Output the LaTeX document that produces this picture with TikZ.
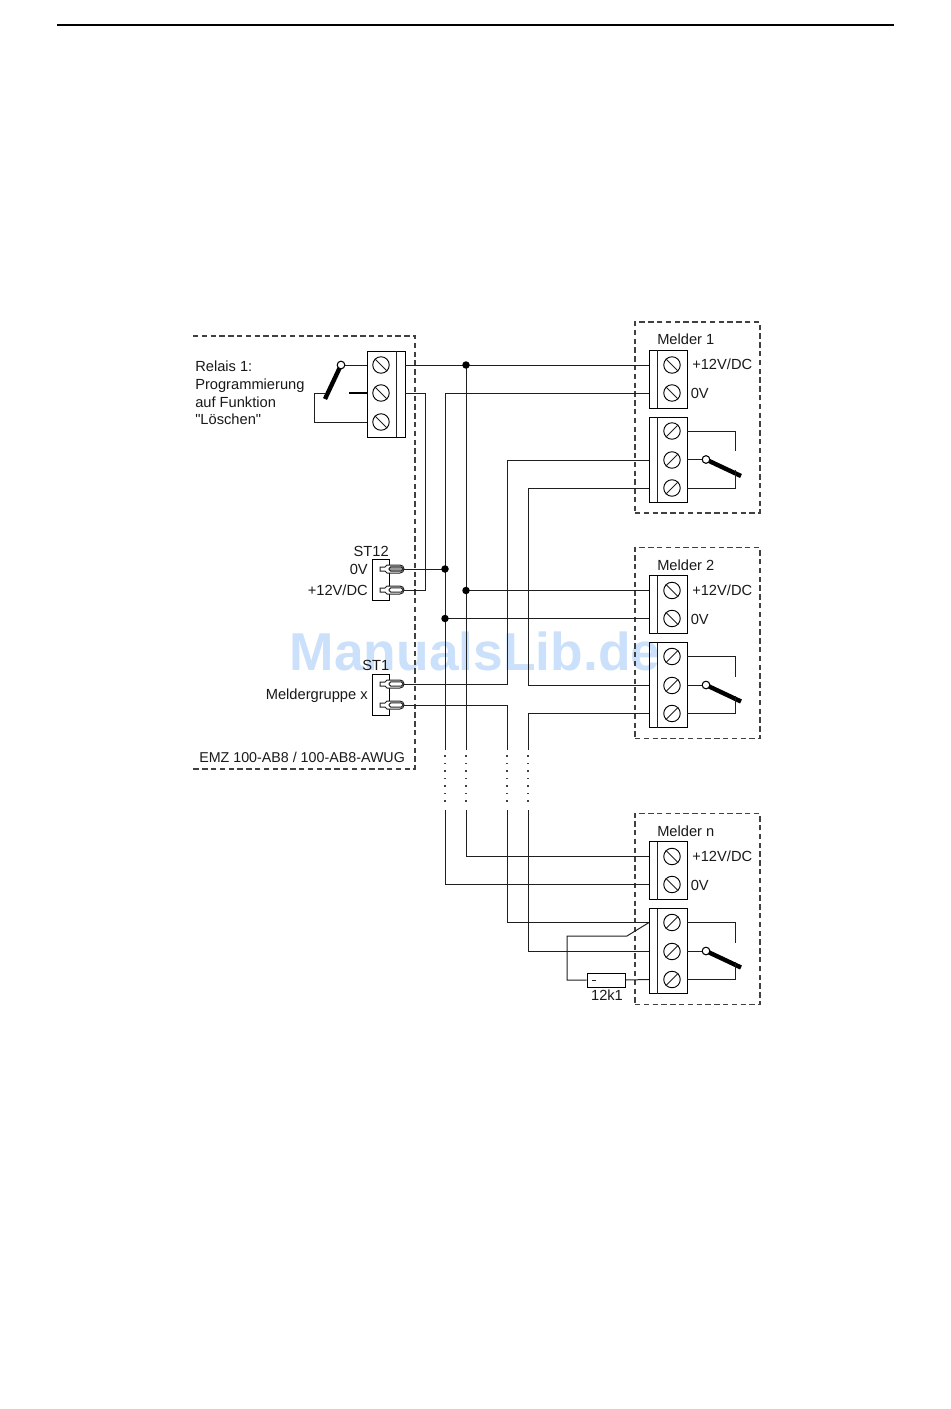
\documentclass[tikz,border=0pt]{standalone}
\usepackage{fontspec}
\setmainfont{Liberation Sans}[Ligatures=TeXOff]
\definecolor{wm}{RGB}{203,224,250}
\newcommand{\melder}[2]{%
\begin{scope}[yshift=#2*-0.75pt]
\node[dashbox,minimum width=125*0.75pt,minimum height=191*0.75pt] (box#1) at (697.5,417.5) {};
\node[blockbox,minimum width=38*0.75pt,minimum height=58*0.75pt] (up#1) at (668,379) {};
\node[blockbox,minimum width=38*0.75pt,minimum height=85*0.75pt] (lo#1) at (668,459.5) {};
\draw[wire] (657,350) -- (657,408);
\draw[wire] (657,417) -- (657,502);
\node[screw] (sa#1) at (672,365) {}; \draw[wire] (sa#1.135) -- (sa#1.315);
\node[screw] (sb#1) at (672,393) {}; \draw[wire] (sb#1.135) -- (sb#1.315);
\node[screw] (sc#1) at (672,431) {}; \draw[wire] (sc#1.45) -- (sc#1.225);
\node[screw] (sd#1) at (672,460) {}; \draw[wire] (sd#1.45) -- (sd#1.225);
\node[screw] (se#1) at (672,488) {}; \draw[wire] (se#1.45) -- (se#1.225);
\coordinate (ta#1) at (649,365); \coordinate (tb#1) at (649,393);
\coordinate (tc#1) at (649,431); \coordinate (td#1) at (649,460); \coordinate (te#1) at (649,488);
\node[pivot] (p#1) at (706,459.5) {};
\coordinate (tip#1) at (741,476);
\draw[blade] (p#1.center) -- (tip#1);
\node[pivot] at (p#1) {};
\draw[wire] (687,431) -| (735,451);
\draw[wire] (687,459.5) -- (p#1.west);
\draw[wire] (687,488) -| (735,470);
\node[lab,anchor=west] at (692,364.5) {+12V/DC};
\node[lab,anchor=west] at (690.5,393.5) {0V};
\end{scope}}
\newcommand{\plugshape}[2]{%
  \draw[wire,fill=white] (380,#1-2) -- (385,#1-2) -- (387,#1-4) -- (400,#1-4)
    arc[start angle=90,end angle=-90,radius=4*0.75pt] -- (387,#1+4) -- (385,#1+2) -- (380,#1+2) -- cycle;
  \draw[wire,#2,rounded corners=1.4pt] (389,#1-2.2) rectangle (403,#1+2.2);}
\tikzset{
 px/.style={x=0.75pt,y=-0.75pt},
 wire/.style={line width=0.75pt,black!88},
 dashbox/.style={draw=black!75,line width=0.85pt,dash pattern=on 4pt off 2.6pt,inner sep=0,fill=none},
 dashln/.style={draw=black!75,line width=0.85pt,dash pattern=on 4pt off 2.6pt},
 blockbox/.style={draw=black,line width=0.75pt,inner sep=0,fill=none},
 screw/.style={circle,draw=black,line width=0.7pt,minimum size=16.5*0.75pt,inner sep=0},
 pivot/.style={circle,draw=black,line width=0.7pt,fill=white,minimum size=7.5*0.75pt,inner sep=0},
 blade/.style={line width=3.3pt,black},
 dotj/.style={circle,fill=black,minimum size=7.5*0.75pt,inner sep=0},
 lab/.style={font=\fontsize{11pt}{13pt}\selectfont,inner sep=0,text=black!90},
}
\begin{document}
\begin{tikzpicture}[px]
\useasboundingbox (0,0) rectangle (950,1409);
% watermark
\node[font=\fontsize{40pt}{42pt}\selectfont\bfseries,text=wm,inner sep=0,anchor=base] (mark) at (475,670) {ManualsLib.de};
\coordinate (ruleL) at (57,25); \coordinate (ruleR) at (894,25);
\draw[line width=1.6pt] (ruleL) -- (ruleR);
% EMZ boundary
\draw[dashln] (193,336) -- (415,336) -- (415,769) -- (191,769);
% Melder frames
\melder{A}{0}
\melder{B}{225.5}
\melder{N}{491.5}
\node[lab,anchor=west] at (657,339.5) {Melder 1};
\node[lab,anchor=west] at (657,565) {Melder 2};
\node[lab,anchor=west] at (657,831.5) {Melder n};
% relay block
\node[blockbox,minimum width=38*0.75pt,minimum height=86*0.75pt] (rel) at (386,394) {};
\draw[wire] (396,351) -- (396,437);
\node[screw] (ra) at (381,365) {}; \draw[wire] (ra.135) -- (ra.315);
\node[screw] (rb) at (381,393) {}; \draw[wire] (rb.135) -- (rb.315);
\node[screw] (rc) at (381,422) {}; \draw[wire] (rc.135) -- (rc.315);
\coordinate (ra1) at (405,365); \coordinate (rb1) at (405,393);
\node[pivot] (rp) at (341,365) {};
\coordinate (rtip) at (325,399);
\draw[blade] (rp.center) -- (rtip);
\node[pivot] at (rp) {};
\draw[wire] (rp.east) -- (367,365);
\draw[blade,line width=1.6pt] (349,393) -- (367,393);
\draw[wire] (325,393) -- (314,393) -- (314,422) -- (367,422);
% ST12 / ST1
\node[blockbox,minimum width=17*0.75pt,minimum height=41*0.75pt] (st12) at (380.5,579.5) {};
\node[blockbox,minimum width=17*0.75pt,minimum height=41*0.75pt] (st1) at (380.5,694.5) {};
\plugshape{569}{fill=black!40}
\plugshape{590}{fill=white}
\plugshape{684}{fill=white}
\plugshape{705}{fill=white}
\coordinate (pla) at (404,569); \coordinate (plb) at (404,590);
\coordinate (plc) at (404,684); \coordinate (pld) at (404,705);
% Wires
\coordinate (jA) at (466,365); \coordinate (jB) at (445,569); \coordinate (jC) at (466,590.5); \coordinate (jD) at (445,618.5);
\draw[wire] (ra1) -- (taA);
\draw[wire] (rb1) -- (425,393) -- (425,590) -- (plb);
\draw[wire] (pla) -- (jB);
\draw[wire] (tbA) -- (445,393) -- (445,750);
\draw[wire] (jA) -- (466,750);
\draw[wire] (jC) -- (taB);
\draw[wire] (jD) -- (tbB);
\draw[wire] (tdA) -- (507,460) -- (507,684) -- (plc);
\draw[wire] (pld) -- (507,705) -- (507,750);
\draw[wire] (teA) -- (528,488) -- (528,685.5) -- (tdB);
\draw[wire] (528,750) -- (528,713.5) -- (teB);
\draw[wire] (445,810) -- (445,884.5) -- (tbN);
\draw[wire] (466,810) -- (466,856.5) -- (taN);
\draw[wire] (507,810) -- (507,922.5) -- (tcN);
\draw[wire] (528,810) -- (528,951.5) -- (tdN);
% dots in the gap
\foreach \xx in {445,466,507,528}{
 \foreach \yy in {756,763.5,771,778.5,786,793.5,801}{
  \fill[black!75] (\xx-0.6,\yy-0.6) rectangle (\xx+0.6,\yy+0.6);
 }}
\foreach \c in {jA,jB,jC,jD}{\node[dotj] at (\c) {};}
% resistor
\node[blockbox,minimum width=38*0.75pt,minimum height=14*0.75pt] (res) at (606,980) {};
\draw[wire] (592,980) -- (596,980);
\draw[wire] (tcN) -- (627,936) -- (567,936) -- (567,980) -- (res.west);
\draw[wire] (res.east) -- (teN);
% Labels
\node[lab,anchor=north west,align=left,font=\fontsize{11pt}{13.2pt}\selectfont] (rlab) at (195,361) {Relais 1:\\Programmierung\\auf Funktion\\"Löschen"};
\node[lab,anchor=east] at (389,551) {ST12};
\node[lab,anchor=east] at (368,569.5) {0V};
\node[lab,anchor=east] at (368,590) {+12V/DC};
\node[lab,anchor=east] at (389.5,665.5) {ST1};
\node[lab,anchor=east] at (368,695.5) {Meldergruppe x};
\node[lab,anchor=west,font=\fontsize{10.7pt}{13pt}\selectfont] at (199,757.5) {EMZ 100-AB8 / 100-AB8-AWUG};
\node[lab] at (607,995.5) {12k1};
\end{tikzpicture}
\end{document}
